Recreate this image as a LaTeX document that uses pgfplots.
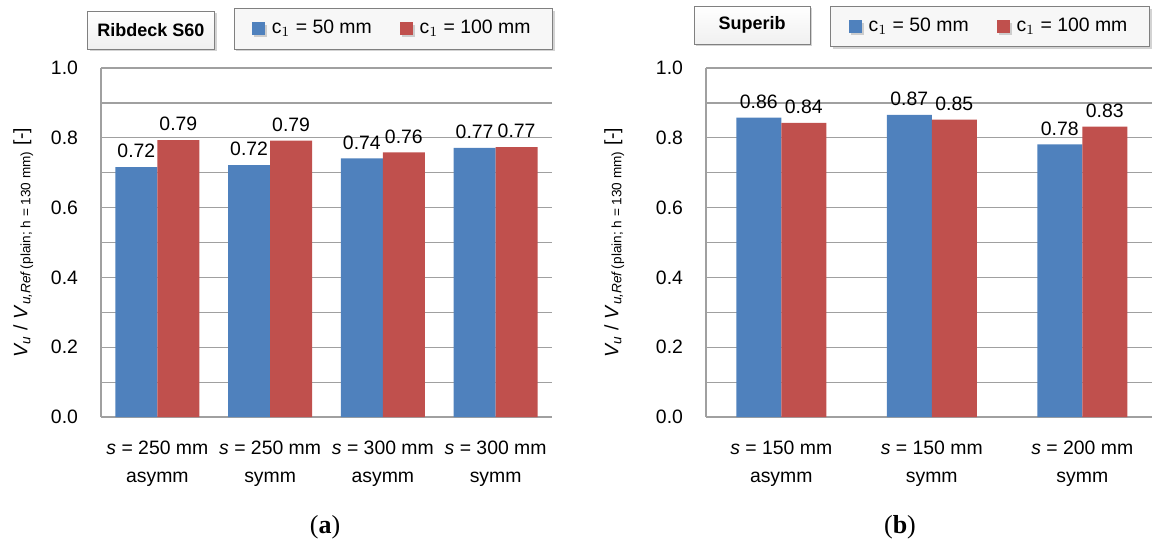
\documentclass[border=0pt]{standalone}
\usepackage{pgfplots}
\usepackage{pgfplotstable}
\pgfplotsset{compat=1.18}
\usepackage{fontspec}
\setmainfont{Liberation Sans}
\newfontfamily\capfont{Liberation Serif}
\usetikzlibrary{shadows}

\definecolor{barblue}{HTML}{4F81BD}
\definecolor{barred}{HTML}{C0504D}
\definecolor{gridgray}{HTML}{A0A0A0}

\newcommand{\lblfont}{\fontsize{9.7}{14}\selectfont}

% V_u / V_u,Ref for both deck types
\pgfplotstableread{
x c50 c100
0 0.716 0.793
1 0.722 0.792
2 0.741 0.758
3 0.771 0.773
}\ribdeck
\pgfplotstableread{
x c50 c100
0 0.858 0.843
1 0.866 0.852
2 0.781 0.832
}\superib

\pgfplotsset{
  panel/.style={
    ybar=0pt, scale only axis, height=174.5pt,
    anchor=south west,
    ymin=0, ymax=1,
    ytick={0,0.1,0.2,0.3,0.4,0.5,0.6,0.7,0.8,0.9,1.0},
    yticklabels={0.0,,0.2,,0.4,,0.6,,0.8,,1.0},
    ymajorgrids,
    grid style={gridgray, line width=0.6pt},
    axis x line*=bottom, axis y line*=left,
    axis line style={gridgray, line width=0.8pt, -},
    major tick length=0pt,
    xtick=data,
    tick label style={font=\lblfont},
    /pgf/number format/assume math mode=true,
    y tick label style={xshift=-8pt},
    x tick label style={align=center, yshift=-8.5pt},
    ylabel={\textit{V\textsubscript{u}} / \textit{V}\textsubscript{\textit{u,Ref}\,(plain; h = 130 mm)} [-]},
    ylabel style={font=\lblfont, yshift=2pt},
    nodes near coords,
    every node near coord/.append style={font=\lblfont, yshift=1pt,
      /pgf/number format/fixed,
      /pgf/number format/fixed zerofill,
      /pgf/number format/precision=2},
    legend columns=2,
    legend style={draw=gray, fill=gray!6, font=\lblfont,
      anchor=north east, inner xsep=9pt, inner ysep=4pt,
      drop shadow={opacity=0.35, shadow xshift=1.2pt, shadow yshift=-1.2pt},
      /tikz/every odd column/.append style={column sep=1.5pt},
      /tikz/every even column/.append style={column sep=12pt}},
    legend image code/.code={\fill[#1] (0pt,-3.2pt) rectangle (6.4pt,3.2pt);},
  },
}
\tikzset{
  tbox/.style={draw=gray, top color=white, bottom color=gray!12,
    font=\fontsize{9}{10}\selectfont\bfseries,
    minimum height=19pt, inner xsep=5pt,
    drop shadow={opacity=0.35, shadow xshift=1.2pt, shadow yshift=-1.2pt}},
}

\begin{document}
\begin{tikzpicture}
\useasboundingbox (0,0) rectangle (576pt,-273.5pt);

\begin{axis}[panel, at={(50.5pt,-208.5pt)}, width=225.5pt,
    xmin=-0.5, xmax=3.5, bar width=21pt,
    xticklabels={{\textit{s} = 250 mm\\asymm},{\textit{s} = 250 mm\\symm},
                 {\textit{s} = 300 mm\\asymm},{\textit{s} = 300 mm\\symm}},
    legend style={at={(1.002,1.172)}}]
\addplot[fill=barblue, draw=none] table[x=x, y=c50] {\ribdeck};
\addplot[fill=barred, draw=none] table[x=x, y=c100] {\ribdeck};
\addlegendentry{c$_1$ = 50 mm}
\addlegendentry{c$_1$ = 100 mm}
\end{axis}

\begin{axis}[panel, at={(353pt,-208.5pt)}, width=223pt,
    xmin=-0.5, xmax=2.463, bar width=22.5pt,
    ylabel style={yshift=7pt},
    xticklabels={{\textit{s} = 150 mm\\asymm},{\textit{s} = 150 mm\\symm},
                 {\textit{s} = 200 mm\\symm}},
    legend style={at={(0.995,1.178)}}]
\addplot[fill=barblue, draw=none] table[x=x, y=c50] {\superib};
\addplot[fill=barred, draw=none] table[x=x, y=c100] {\superib};
\addlegendentry{c$_1$ = 50 mm}
\addlegendentry{c$_1$ = 100 mm}
\end{axis}

\node[tbox, minimum width=57pt] at (75.5pt,-15pt) {Ribdeck S60};
\node[tbox, minimum width=58pt] at (376pt,-12.5pt) {Superib};

\node[font=\capfont\fontsize{13}{15}\selectfont] at (162.5pt,-263.5pt) {(\textbf{a})};
\node[font=\capfont\fontsize{13}{15}\selectfont] at (450pt,-263.5pt) {(\textbf{b})};
\end{tikzpicture}
\end{document}
